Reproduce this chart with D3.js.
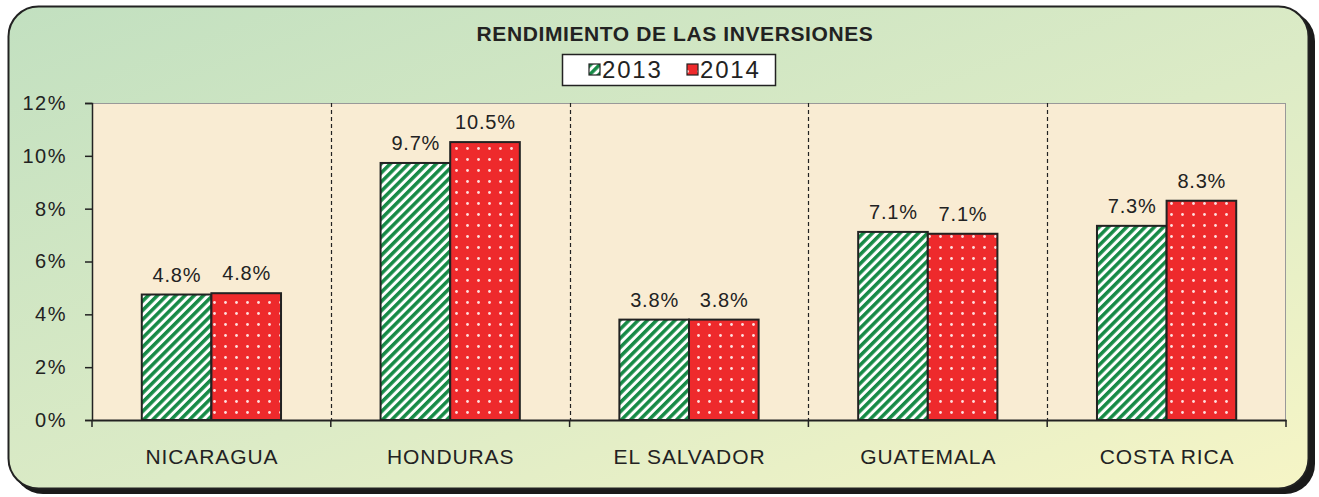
<!DOCTYPE html>
<html><head><meta charset="utf-8">
<script src="https://cdn.jsdelivr.net/npm/d3@7"></script>
<style>body{margin:0;background:#fff;}svg{display:block;font-family:"Liberation Sans",Arial,sans-serif;}</style>
</head><body>
<svg id="c" width="1319" height="497"></svg>
<script>
const categories = ["NICARAGUA","HONDURAS","EL SALVADOR","GUATEMALA","COSTA RICA"];
const seriesNames = ["2013","2014"];
const values2013 = [4.75, 9.73, 3.8, 7.12, 7.35];
const values2014 = [4.8, 10.52, 3.8, 7.05, 8.3];
const labels2013 = ["4.8%","9.7%","3.8%","7.1%","7.3%"];
const labels2014 = ["4.8%","10.5%","3.8%","7.1%","8.3%"];
const yTicks = [0,2,4,6,8,10,12];
const title = "RENDIMIENTO DE LAS INVERSIONES";

const svg = d3.select("#c");
const defs = svg.append("defs");
const bg = defs.append("linearGradient").attr("id","bg").attr("x1","0").attr("y1","0").attr("x2","1").attr("y2","1");
bg.append("stop").attr("offset","0").attr("stop-color","#c2e0c0");
bg.append("stop").attr("offset","0.55").attr("stop-color","#dcebc6");
bg.append("stop").attr("offset","1").attr("stop-color","#f6f5c6");

const pg = defs.append("pattern").attr("id","pGreen").attr("patternUnits","userSpaceOnUse")
  .attr("width",6.5).attr("height",6.5).attr("patternTransform","rotate(45)");
pg.append("rect").attr("width",6.5).attr("height",6.5).attr("fill","#ffffff");
pg.append("rect").attr("width",3.5).attr("height",6.5).attr("fill","#168a46");

const pr = defs.append("pattern").attr("id","pRed").attr("patternUnits","userSpaceOnUse")
  .attr("width",11).attr("height",11);
pr.append("rect").attr("width",11).attr("height",11).attr("fill","#ee2a2c");
pr.append("circle").attr("cx",5.5).attr("cy",5.5).attr("r",1.4).attr("fill","#ffdede");

const fills = ["url(#pGreen)","url(#pRed)"];

// frame
svg.append("rect").attr("x",13).attr("y",11).attr("width",1302).attr("height",483).attr("rx",30).attr("fill","#1a1a1a");
svg.append("rect").attr("x",8.5).attr("y",6.5).attr("width",1300).attr("height",482).attr("rx",30)
  .attr("fill","url(#bg)").attr("stroke","#222").attr("stroke-width",2);

const m = {l:92, r:1286, t:103, b:420};
const x = d3.scaleBand().domain(categories).range([m.l,m.r]).paddingInner(0).paddingOuter(0);
const xs = d3.scaleBand().domain(seriesNames).range([0,x.bandwidth()]).paddingInner(0).paddingOuter(0.715);
const y = d3.scaleLinear().domain([0,12]).range([m.b,m.t]);

svg.append("rect").attr("x",m.l).attr("y",m.t).attr("width",m.r-m.l).attr("height",m.b-m.t).attr("fill","#f9ecd3");
svg.append("line").attr("x1",m.l).attr("x2",m.r).attr("y1",m.t+0.5).attr("y2",m.t+0.5).attr("stroke","#999");
svg.append("line").attr("x1",m.r-0.5).attr("x2",m.r-0.5).attr("y1",m.t).attr("y2",m.b).attr("stroke","#999");

// separators
categories.slice(1).forEach(c=>{
  svg.append("line").attr("x1",Math.round(x(c))+0.5).attr("x2",Math.round(x(c))+0.5).attr("y1",m.t).attr("y2",m.b)
    .attr("stroke","#222").attr("stroke-width",1.2).attr("stroke-dasharray","4,3");
});

const series = [values2013, values2014];
const labs = [labels2013, labels2014];
series.forEach((vals,si)=>{
  const g = svg.append("g");
  g.selectAll("rect").data(categories).join("rect")
    .attr("x",(c)=>x(c)+xs(seriesNames[si]))
    .attr("y",(c,i)=>y(vals[i]))
    .attr("width",xs.bandwidth())
    .attr("height",(c,i)=>y(0)-y(vals[i]))
    .attr("fill",fills[si]).attr("stroke","#222").attr("stroke-width",2);
  g.selectAll("text").data(categories).join("text")
    .attr("x",(c)=>x(c)+xs(seriesNames[si])+xs.bandwidth()/2+0.4)
    .attr("y",(c,i)=>y(vals[i])-13)
    .attr("text-anchor","middle").attr("font-size",20).attr("letter-spacing","0.8").attr("fill","#222")
    .text((c,i)=>labs[si][i]);
});

// y axis
const ya = svg.append("g").attr("transform",`translate(${m.l},0)`)
  .call(d3.axisLeft(y).tickValues(yTicks).tickFormat(d=>d+"%").tickSize(7).tickPadding(18));
ya.select(".domain").attr("stroke","#222").attr("stroke-width",1.5);
ya.selectAll(".tick line").attr("stroke","#222").attr("stroke-width",1.5);
ya.selectAll(".tick text").attr("font-size",20).attr("letter-spacing","1.5").attr("fill","#222").attr("font-family","Liberation Sans, Arial, sans-serif");

// x axis
const xa = svg.append("g").attr("transform",`translate(0,${m.b})`)
  .call(d3.axisBottom(x).tickSize(0).tickPadding(29));
xa.select(".domain").attr("stroke","#222").attr("stroke-width",2);
xa.selectAll(".tick text").attr("font-size",21).attr("letter-spacing","0.9").attr("dx","0.5").attr("fill","#222").attr("font-family","Liberation Sans, Arial, sans-serif");
categories.concat(["__end"]).forEach((c,i)=>{
  const xp = c==="__end"? m.r : x(c);
  svg.append("line").attr("x1",xp).attr("x2",xp).attr("y1",m.b).attr("y2",m.b+7).attr("stroke","#222").attr("stroke-width",1.5);
});

// title
svg.append("text").attr("x",675).attr("y",41).attr("text-anchor","middle").attr("font-weight","bold")
  .attr("font-size",21).attr("letter-spacing","0.6").attr("fill","#222").text(title);

// legend
const lg = svg.append("g");
lg.append("rect").attr("x",562.5).attr("y",54.5).attr("width",213).attr("height",31).attr("fill","#fff").attr("stroke","#222").attr("stroke-width",1.5);
const lx = [589, 687];
seriesNames.forEach((s,i)=>{
  lg.append("rect").attr("x",lx[i]).attr("y",64).attr("width",11).attr("height",11).attr("fill",fills[i]).attr("stroke","#222").attr("stroke-width",1.2);
  lg.append("text").attr("x",lx[i]+13).attr("y",78).attr("font-size",24).attr("letter-spacing","1.8").attr("fill","#222").text(s);
});
</script>
</body></html>
